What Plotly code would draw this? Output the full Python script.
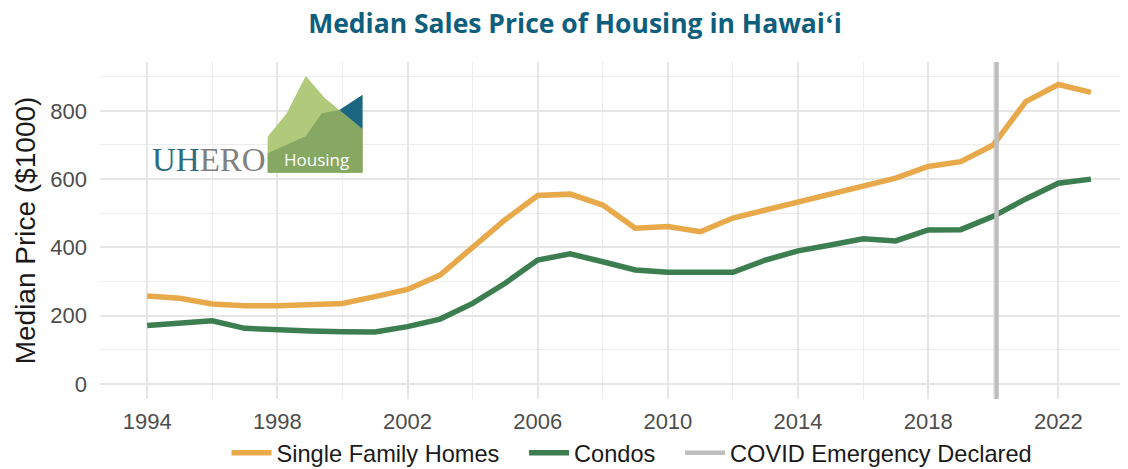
import plotly.graph_objects as go

# data ($1000)
years = list(range(1994, 2024))
single_family = [258, 251, 234, 229, 229, 231, 236, 256, 277, 319, 398, 481, 552, 556, 524,
                 456, 461, 446, 486, 510, 532, 554, 578, 603, 637, 651, 700, 827, 877, 854]
condos = [171, 180, 185, 163, 158, 155, 153, 152, 168, 190, 236, 295, 363, 381, 358,
          334, 327, 327, 327, 363, 390, 407, 425, 419, 451, 452, 491, 542, 588, 600]
covid_year = 2020.1
x_ticks = list(range(1994, 2023, 4))
y_ticks = [0, 200, 400, 600, 800]

x_range = [1992.55, 2024.14]
y_range = [-44, 943]

ORANGE = '#E8A94B'
GREEN = '#3C7E50'
GREY = '#BEBEBE'
TEAL = '#0E5E7E'

# the page body adds an 8px margin, so the figure is drawn 8px smaller
OFF = 8
W, H = 1128 - OFF, 469 - OFF
L, R, T, B = 100 - OFF, 0, 62 - OFF, 70


def px(x):
    return (x - OFF - L) / (W - L - R)


def py(y):
    return (H - B - (y - OFF)) / (H - T - B)


def path(points):
    return 'M ' + ' L '.join(f'{px(a):.4f},{py(b):.4f}' for a, b in points) + ' Z'


pad = '\u00a0' * 3

fig = go.Figure()
fig.add_trace(go.Scatter(x=years, y=single_family, mode='lines', name='Single Family Homes' + pad,
                         line=dict(color=ORANGE, width=5.5)))
fig.add_trace(go.Scatter(x=years, y=condos, mode='lines', name='Condos' + pad,
                         line=dict(color=GREEN, width=5.5)))
fig.add_trace(go.Scatter(x=[covid_year, covid_year], y=y_range, mode='lines',
                         name='COVID Emergency Declared', line=dict(color=GREY, width=4.5)))

# UHERO Housing logo
logo_light = [(267.7, 172.7), (267.7, 136.7), (286.7, 113.3), (305.7, 76), (325, 98.3),
              (339.3, 110), (362.7, 129.3), (362.7, 172.7)]
logo_dark = [(267.7, 172.7), (267.7, 153.3), (305.7, 136.3), (321.7, 113.3), (339.3, 110),
             (362.7, 129.3), (362.7, 172.7)]
logo_teal = [(339.3, 110), (362.7, 94.7), (362.7, 129.3)]
for pts, col in [(logo_light, '#B0C97A'), (logo_dark, '#86A862'), (logo_teal, '#1D6680')]:
    fig.add_shape(type='path', path=path(pts), xref='paper', yref='paper',
                  fillcolor=col, line=dict(width=0), layer='above')

fig.add_annotation(text="<span style='color:#2B6C85'>UH</span><span style='color:#808080'>ERO</span>",
                   x=px(150), y=py(160), xref='paper', yref='paper', xanchor='left', yanchor='middle',
                   showarrow=False, font=dict(family='Liberation Serif', size=33))
fig.add_annotation(text='Housing', x=px(316), y=py(159), xref='paper', yref='paper',
                   xanchor='center', yanchor='middle', showarrow=False,
                   font=dict(family='Open Sans', size=17, color='white'))

fig.update_layout(
    width=W, height=H,
    margin=dict(l=L, r=R, t=T, b=B, autoexpand=False),
    plot_bgcolor='white', paper_bgcolor='white',
    title=dict(text='<b>Median Sales Price of Housing in Hawaiʻi</b>', x=(575 - OFF) / W,
               xanchor='center', y=1 - (24 - OFF) / H, yanchor='middle',
               xref='container', yref='container',
               font=dict(family='Open Sans', size=26.5, color=TEAL)),
    font=dict(family='Liberation Sans', color='#1A1A1A'),
    legend=dict(orientation='h', x=px(632), xanchor='center', y=py(453), yanchor='middle',
                itemwidth=40, font=dict(size=23.6, color='#1A1A1A'), bgcolor='rgba(0,0,0,0)'),
    xaxis=dict(range=x_range, tickvals=x_ticks, showline=False, zeroline=False, automargin=False,
               gridcolor='#E6E6E6', gridwidth=1.6, ticklabelstandoff=7,
               tickfont=dict(size=22, color='#4D4D4D'),
               minor=dict(dtick=2, tick0=1994, showgrid=True, gridcolor='#EDEDED', gridwidth=1.2)),
    yaxis=dict(range=y_range, tickvals=y_ticks, showline=False, zeroline=False, automargin=False,
               gridcolor='#E6E6E6', gridwidth=1.6, ticklabelstandoff=12,
               tickfont=dict(size=22, color='#4D4D4D'),
               title=dict(text='Median Price ($1000)', standoff=6,
                          font=dict(size=28, color='#1A1A1A')),
               minor=dict(dtick=100, tick0=0, showgrid=True, gridcolor='#EDEDED', gridwidth=1.2)),
)

fig.write_html('out.html')
